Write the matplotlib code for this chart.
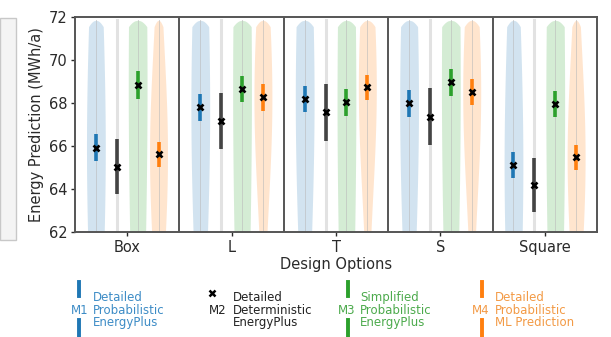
import numpy as np
import matplotlib
matplotlib.use("Agg")
import matplotlib.pyplot as plt
from matplotlib.lines import Line2D
from matplotlib.patches import Rectangle

categories = ['Box', 'L', 'T', 'S', 'Square']
m1_mean = [65.93, 67.80, 68.19, 67.99, 65.12]
m1_err = [0.62, 0.62, 0.60, 0.62, 0.62]
m2_mean = [65.04, 67.16, 67.57, 67.36, 64.19]
m2_err = [1.28, 1.30, 1.33, 1.32, 1.27]
m3_mean = [68.84, 68.65, 68.03, 68.96, 67.95]
m3_err = [0.65, 0.62, 0.63, 0.63, 0.62]
m4_mean = [65.61, 68.26, 68.73, 68.50, 65.47]
m4_err = [0.58, 0.62, 0.59, 0.61, 0.59]
yticks = [62, 64, 66, 68, 70, 72]

legend_codes = ['M1', 'M2', 'M3', 'M4']
legend_labels = ['Detailed\nProbabilistic\nEnergyPlus',
                 'Detailed\nDeterministic\nEnergyPlus',
                 'Simplified\nProbabilistic\nEnergyPlus',
                 'Detailed\nProbabilistic\nML Prediction']

W, H = 611, 337
fig = plt.figure(figsize=(W / 100, H / 100), dpi=100)
ax = fig.add_axes([75 / W, 1 - 232 / H, 522 / W, 215 / H])

offsets = [-0.3, -0.1, 0.1, 0.3]
colors = ['#1f77b4', '#444444', '#2ca02c', '#ff7f0e']
vcolors = ['#1f77b4', None, '#2ca02c', '#ff7f0e']
vwidth = [0.090, 0, 0.090, 0.086]
vspread = [8.0, 0, 12.0, 5.0]
vtop = 71.85

means = [m1_mean, m2_mean, m3_mean, m4_mean]
errs = [m1_err, m2_err, m3_err, m4_err]

yy = np.linspace(61.0, vtop, 400)
taper = np.sqrt(np.clip((vtop - yy) / 0.3, 0, 1))
x = np.arange(len(categories))
for j in range(4):
    for i in range(len(categories)):
        x0 = x[i] + offsets[j]
        if vcolors[j] is not None:
            w = vwidth[j] * np.exp(-(yy - means[j][i]) ** 2 / (2 * vspread[j] ** 2)) * taper
            ax.fill_betweenx(yy, x0 - w, x0 + w, color=vcolors[j], alpha=0.2, lw=0, zorder=1)
            ax.plot([x0, x0], [61, vtop], color='#bbbbbb', lw=0.7, alpha=0.6, zorder=1.5)
        else:
            ax.plot([x0, x0], [61, vtop], color='#e2e2e2', lw=2.2, zorder=1.5)
    ax.errorbar(x + offsets[j], means[j], yerr=errs[j], fmt='none', ecolor=colors[j],
                elinewidth=2.6, capsize=0, zorder=3)
    ax.plot(x + offsets[j], means[j], 'x', color='black', ms=5, mew=1.9, zorder=4, ls='none')

for b in np.arange(0.5, len(categories) - 0.5, 1.0):
    ax.axvline(b, color='#555555', lw=1.4, zorder=5)

ax.set_xlim(-0.5, len(categories) - 0.5)
ax.set_ylim(62, 72)
ax.set_yticks(yticks)
ax.set_xticks(x)
ax.set_xticklabels(categories)
ax.tick_params(labelsize=10.5, colors='#2a2a2a', length=3, width=1, pad=2.5)
for s in ax.spines.values():
    s.set_color('#555555')
    s.set_linewidth(1.4)
ax.set_ylabel('Energy Prediction (MWh/a)', fontsize=10.5, color='#2a2a2a', labelpad=3)
ax.set_xlabel('Design Options', fontsize=10.5, color='#2a2a2a', labelpad=2)

# partial screenshot fragment on the far left
fig.patches.append(Rectangle((0, 1 - 240 / H), 16 / W, 222 / H, transform=fig.transFigure,
                             facecolor='#f4f4f4', edgecolor='#c8c8c8', lw=1))

def fx(px):
    return px / W

def fy(py):
    return 1 - py / H

text_colors = ['#3d8cc6', '#222222', '#4caa4c', '#f39a45']
bar_x = [79, 212, 348, 482]
code_x = [80, 218, 347, 481]
label_x = [93, 233, 360, 495]
for k in range(4):
    if k == 1:
        fig.add_artist(Line2D([fx(bar_x[k])], [fy(293)], marker='x', color='black',
                              ms=5, mew=1.8, transform=fig.transFigure))
    else:
        fig.add_artist(Line2D([fx(bar_x[k])] * 2, [fy(282), fy(296)], color=colors[k],
                              lw=2.8, transform=fig.transFigure))
        fig.add_artist(Line2D([fx(bar_x[k])] * 2, [fy(320), fy(340)], color=colors[k],
                              lw=2.8, transform=fig.transFigure))
    fig.text(fx(code_x[k]), fy(310), legend_codes[k], ha='center', va='center',
             fontsize=8.5, color=text_colors[k])
    fig.text(fx(label_x[k]), fy(310), legend_labels[k], ha='left', va='center',
             fontsize=8.5, color=text_colors[k], linespacing=0.92)

fig.savefig('out.png', dpi=100)
